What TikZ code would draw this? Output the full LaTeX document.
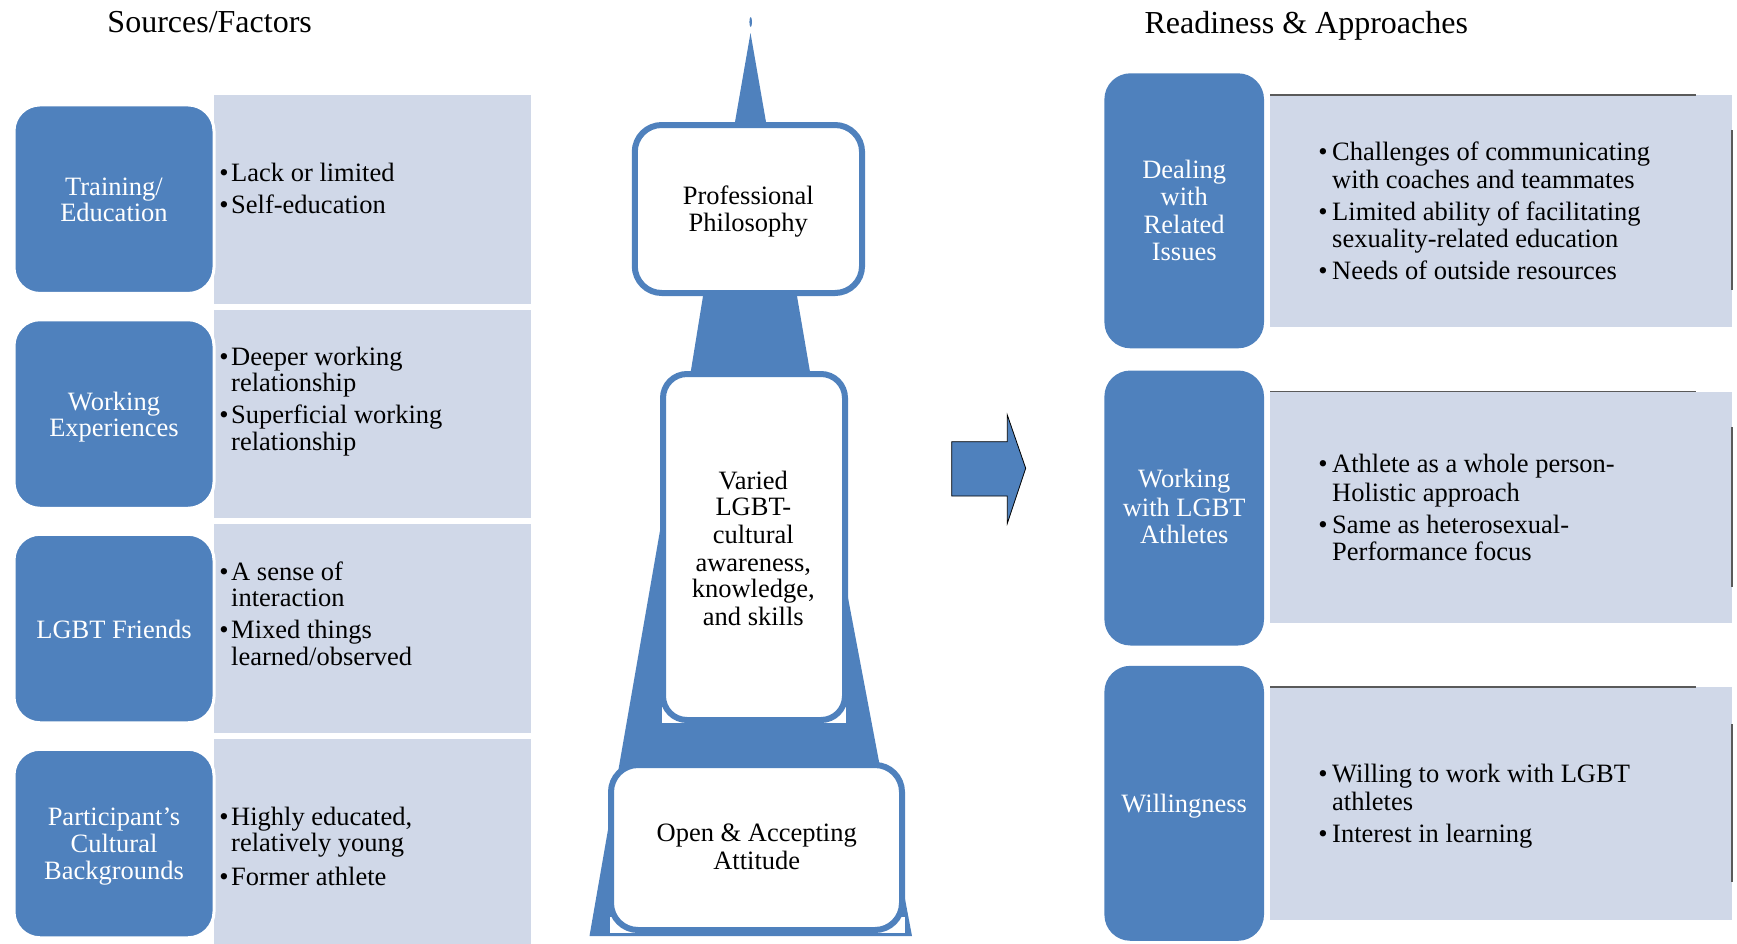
\documentclass[tikz,border=0pt]{standalone}
\usepackage{fontspec}
\setmainfont{Liberation Serif}
\definecolor{sblue}{HTML}{4F81BD}
\definecolor{spanel}{HTML}{D0D8E8}
\definecolor{sline}{HTML}{5A5A5A}
\begin{document}
\begin{tikzpicture}[x=1pt,y=-1pt,
 panel/.style={fill=spanel, inner sep=0pt, outer sep=0pt},
 lbox/.style={fill=sblue, draw=white, line width=3pt, rounded corners=26pt, inner sep=0pt, outer sep=0pt, minimum width=200pt, minimum height=188.5pt},
 rbox/.style={fill=sblue, rounded corners=26pt, inner sep=0pt, outer sep=0pt, minimum width=159.6pt, minimum height=275pt},
 wbox/.style={fill=white, draw=sblue, line width=6pt, inner sep=0pt, outer sep=0pt},
 body/.style={font=\fontsize{26.5}{28}\selectfont, inner sep=0pt},
 item/.style={body, anchor=base west},
 blt/.style={body, anchor=base},
 wlab/.style={body, anchor=base, text=white},
 clab/.style={body, anchor=base},
 ttl/.style={font=\fontsize{32}{36}\selectfont, inner sep=0pt, anchor=base},
 tower/.style={fill=sblue},
 edgeline/.style={draw=sline, line width=1.2pt}
]
\useasboundingbox (0,0) rectangle (1737,943);

% titles
\node[ttl] (t1) at (209.7,32.3) {Sources/Factors};
\node[ttl] (t2) at (1306.3,33.3) {Readiness \& Approaches};

% left panels
\node[panel, minimum width=317pt, minimum height=209pt] (p1) at (372.5,199.5) {};
\node[panel, minimum width=317pt, minimum height=208pt] (p2) at (372.5,414) {};
\node[panel, minimum width=317pt, minimum height=208.7pt] (p3) at (372.5,628.35) {};
\node[panel, minimum width=317pt, minimum height=206pt] (p4) at (372.5,842) {};

% left boxes
\node[lbox] (b1) at (114,199.2) {};
\node[lbox] (b2) at (114,414) {};
\node[lbox] (b3) at (114,628.5) {};
\node[lbox] (b4) at (114,843.5) {};

% left box labels
\node[wlab] (b1a) at (114,195) {Training/};
\node[wlab] (b1b) at (114,221.7) {Education};
\node[wlab] (b2a) at (114,410) {Working};
\node[wlab] (b2b) at (114,436.7) {Experiences};
\node[wlab] (b3a) at (114,638) {LGBT Friends};
\node[wlab] (b4a) at (114,825) {Participant’s};
\node[wlab] (b4b) at (114,852.7) {Cultural};
\node[wlab] (b4c) at (114,879.3) {Backgrounds};

% left items
\node[blt] (d1) at (224,181.7) {•};
\node[item] (i1) at (231,181.7) {Lack or limited};
\node[blt] (d2) at (224,213) {•};
\node[item] (i2) at (231,213) {Self-education};
\node[blt] (d3) at (224,365) {•};
\node[item] (i3) at (231,365) {Deeper working};
\node[item] (i4) at (231,391.7) {relationship};
\node[blt] (d5) at (224,423.3) {•};
\node[item] (i5) at (231,423.3) {Superficial working};
\node[item] (i6) at (231,450) {relationship};
\node[blt] (d7) at (224,580) {•};
\node[item] (i7) at (231,580) {A sense of};
\node[item] (i8) at (231,606.7) {interaction};
\node[blt] (d9) at (224,638.3) {•};
\node[item] (i9) at (231,638.3) {Mixed things};
\node[item] (i10) at (231,665) {learned/observed};
\node[blt] (d11) at (224,825) {•};
\node[item] (i11) at (231,825) {Highly educated,};
\node[item] (i12) at (231,851.7) {relatively young};
\node[blt] (d13) at (224,885) {•};
\node[item] (i13) at (231,885) {Former athlete};

% tower
\fill[tower] (750.7,22) ellipse (1.3 and 5);
\fill[tower] (750.5,33) -- (767.4,130) -- (733.6,130) -- cycle;
\fill[tower] (704.8,285) -- (795.1,285) -- (811.4,380) -- (689.4,380) -- cycle;
\fill[tower] (686.2,380) -- (806.8,380) -- (912,936) -- (589.5,936) -- cycle;
\fill[white] (662,705) rectangle (846,723);
\fill[white] (610,917) rectangle (905,933);
\node[wbox, rounded corners=27pt, minimum width=227.3pt, minimum height=168pt] (c1) at (748.4,209) {};
\node[wbox, rounded corners=24pt, minimum width=182pt, minimum height=346pt] (c2) at (754,547) {};
\node[wbox, rounded corners=27pt, minimum width=291pt, minimum height=165pt] (c3) at (756.5,847.5) {};

\node[clab] (c1a) at (748.3,204) {Professional};
\node[clab] (c1b) at (748.3,231.7) {Philosophy};
\node[clab] (c2a) at (753.3,489) {Varied};
\node[clab] (c2b) at (753.3,515.7) {LGBT-};
\node[clab] (c2c) at (753.3,543.3) {cultural};
\node[clab] (c2d) at (753.3,571) {awareness,};
\node[clab] (c2e) at (753.3,597.3) {knowledge,};
\node[clab] (c2f) at (753.3,625) {and skills};
\node[clab] (c3a) at (756.7,841.7) {Open \& Accepting};
\node[clab] (c3b) at (756.7,869.3) {Attitude};

% arrow
\draw[fill=sblue, draw=black, line width=0.8pt, line join=miter]
  (951.7,441.7) -- (1007.3,441.7) -- (1007.3,415) -- (1025.7,468.3)
  -- (1007.3,523.3) -- (1007.3,496) -- (951.7,496) -- cycle;

% right panels
\node[panel, minimum width=461.2pt, minimum height=232.3pt] (q1) at (1500.9,211.15) {};
\node[panel, minimum width=461.2pt, minimum height=231.4pt] (q2) at (1500.9,507.3) {};
\node[panel, minimum width=461.2pt, minimum height=232.5pt] (q3) at (1500.9,803.25) {};
\draw[edgeline] (q1.north west) -- ++(426,0);
\draw[edgeline] (q2.north west) -- ++(426,0);
\draw[edgeline] (q3.north west) -- ++(426,0);
\draw[edgeline] (1732,130) -- (1732,290);
\draw[edgeline] (1732,427) -- (1732,587);
\draw[edgeline] (1732,724) -- (1732,882);

% right boxes
\node[rbox] (r1) at (1184.2,210.8) {};
\node[rbox] (r2) at (1184.2,508) {};
\node[rbox] (r3) at (1184.2,803.3) {};

\node[wlab] (r1a) at (1184.2,178.4) {Dealing};
\node[wlab] (r1b) at (1184.2,205.5) {with};
\node[wlab] (r1c) at (1184.2,233.6) {Related};
\node[wlab] (r1d) at (1184.2,260.8) {Issues};
\node[wlab] (r2a) at (1184.2,487.8) {Working};
\node[wlab] (r2b) at (1184.2,516) {with LGBT};
\node[wlab] (r2c) at (1184.2,543.5) {Athletes};
\node[wlab] (r3a) at (1184.2,812.3) {Willingness};

% right items
\node[blt] (e1) at (1323,160.5) {•};
\node[item] (j1) at (1332,160.5) {Challenges of communicating};
\node[item] (j2) at (1332,188.4) {with coaches and teammates};
\node[blt] (e3) at (1323,220.3) {•};
\node[item] (j3) at (1332,220.3) {Limited ability of facilitating};
\node[item] (j4) at (1332,247.5) {sexuality-related education};
\node[blt] (e5) at (1323,279) {•};
\node[item] (j5) at (1332,279) {Needs of outside resources};
\node[blt] (e6) at (1323,472) {•};
\node[item] (j6) at (1332,472) {Athlete as a whole person-};
\node[item] (j7) at (1332,501) {Holistic approach};
\node[blt] (e8) at (1323,533) {•};
\node[item] (j8) at (1332,533) {Same as heterosexual-};
\node[item] (j9) at (1332,560) {Performance focus};
\node[blt] (e10) at (1323,782.5) {•};
\node[item] (j10) at (1332,782.5) {Willing to work with LGBT};
\node[item] (j11) at (1332,810.5) {athletes};
\node[blt] (e12) at (1323,842.7) {•};
\node[item] (j12) at (1332,842.7) {Interest in learning};
\end{tikzpicture}
\end{document}
